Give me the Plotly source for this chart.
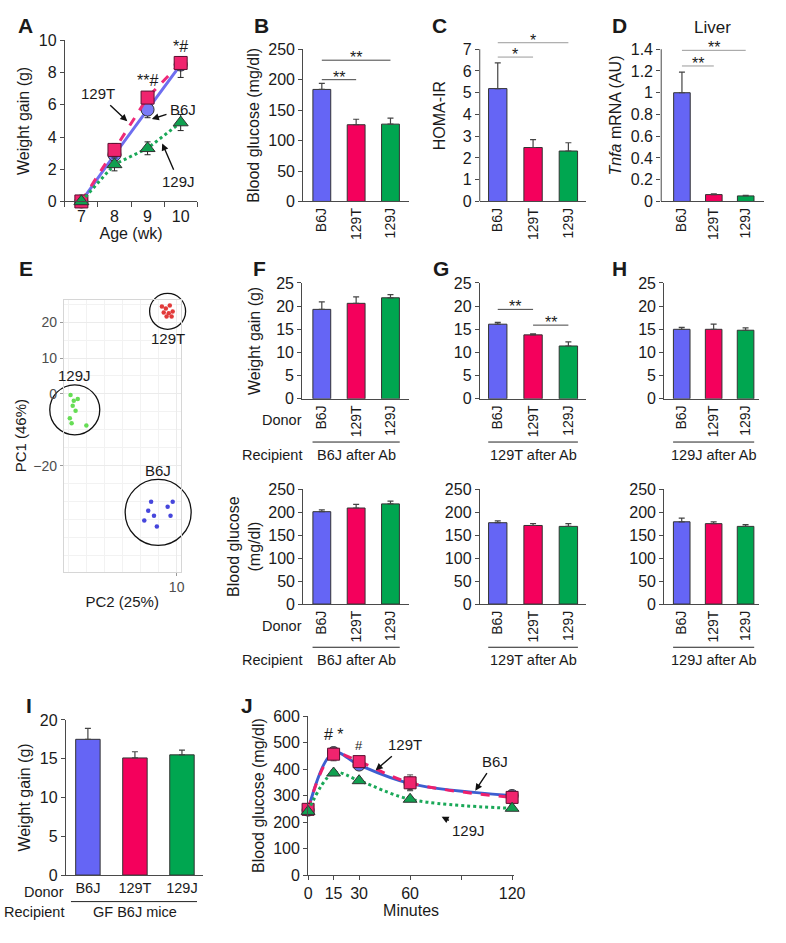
import numpy as np
import plotly.graph_objects as go

W, H = 786, 943
FONT = "Liberation Sans, Arial, Helvetica, sans-serif"
INK = "#1a1a1a"
AXC = "#4a4a4a"

# ---------------- data ----------------
strains = ["B6J", "129T", "129J"]

# A: weight gain over age
age_wk = [7, 8, 9, 10]
gain_b6j = [0, 2.9, 5.7, 8.5]
gain_b6j_sem = [0, 0.3, 0.5, 0.3]
gain_129t = [0, 3.2, 6.45, 8.6]
gain_129t_sem_up = [0, 0.4, 0.35, 0.4]
gain_129t_sem_dn = [0, 0.4, 0.35, 0.9]
gain_129j = [0, 2.3, 3.3, 4.9]
gain_129j_sem = [0, 0.4, 0.4, 0.5]

# B, C, D
glucose = [184, 126, 127]
glucose_sem = [10, 9, 10]
homa_ir = [5.19, 2.48, 2.32]
homa_ir_sem = [1.18, 0.36, 0.38]
tnfa_liver = [1.0, 0.063, 0.051]
tnfa_liver_sem = [0.19, 0.006, 0.005]

# E: PCA scores (PC2, PC1)
pca_129t_pc2 = [5.9, 7.0, 8.1, 6.4, 7.8, 8.9, 7.2, 8.6]
pca_129t_pc1 = [24.4, 23.8, 24.7, 22.7, 22.5, 23.0, 21.6, 21.6]
pca_129j_pc2 = [-19.5, -18.6, -17.5, -18.9, -19.7, -19.2, -15.1, -18.1]
pca_129j_pc1 = [-0.3, -1.9, -1.4, -3.3, -6.8, -8.2, -8.8, -4.7]
pca_b6j_pc2 = [2.9, 2.1, 3.7, 1.0, 7.5, 8.9, 8.3, 4.5]
pca_b6j_pc1 = [-30.1, -32.6, -34.0, -35.3, -31.5, -30.1, -34.0, -37.0]

# F, G, H: recipients after antibiotics (donor order = strains)
gain_rec_b6j = [19.3, 20.6, 21.8]
gain_rec_b6j_sem = [1.6, 1.4, 0.7]
gain_rec_129t = [16.1, 13.8, 11.4]
gain_rec_129t_sem = [0.4, 0.2, 0.9]
gain_rec_129j = [15.0, 15.0, 14.8]
gain_rec_129j_sem = [0.4, 1.1, 0.5]
glu_rec_b6j = [201, 209, 218]
glu_rec_b6j_sem = [4, 8, 6]
glu_rec_129t = [177, 171, 169]
glu_rec_129t_sem = [4, 4, 6]
glu_rec_129j = [179, 175, 169]
glu_rec_129j_sem = [8, 4, 4]

# I: germ-free B6J recipients
gain_gf = [17.5, 15.1, 15.5]
gain_gf_sem = [1.4, 0.8, 0.6]

# J: glucose tolerance test
minutes = [0, 15, 30, 60, 120]
gtt_b6j = [245, 462, 415, 345, 300]
gtt_b6j_sem = [8, 20, 12, 25, 20]
gtt_129t = [248, 456, 428, 348, 293]
gtt_129t_sem = [8, 25, 12, 30, 25]
gtt_129j = [240, 385, 356, 286, 252]
gtt_129j_sem = [6, 10, 8, 8, 8]

# ---------------- styles ----------------
BLUE, PINK, GREEN = "#6565f5", "#f4005c", "#00a650"
bar_colors = [BLUE, PINK, GREEN]


def xdom(l, r):
    return [l / W, r / W]


def ydom(t, b):
    return [1 - b / H, 1 - t / H]


def lin(p0, v0, p1, v1, a, b):
    k = (v1 - v0) / (p1 - p0)
    return [v0 + (a - p0) * k, v0 + (b - p0) * k]


def suf(n):
    return "" if n == 1 else str(n)


AX = dict(showgrid=False, zeroline=False, showline=True, linecolor=AXC, linewidth=1,
          ticks="outside", ticklen=4, tickwidth=1, tickcolor=AXC,
          tickfont=dict(size=16, color=INK))

fig = go.Figure()
lay = dict(width=W, height=H, margin=dict(l=0, r=0, t=0, b=0),
           paper_bgcolor="white", plot_bgcolor="white", showlegend=False,
           font=dict(family=FONT, size=15, color=INK))
annotations = []
shapes = []


def axes(n, xd, yd, xr, yr, xkw=None, ykw=None):
    s = suf(n)
    xa = dict(AX)
    xa.update(domain=xd, range=xr, anchor="y" + s)
    xa.update(xkw or {})
    ya = dict(AX)
    ya.update(domain=yd, range=yr, anchor="x" + s)
    ya.update(ykw or {})
    lay["xaxis" + s] = xa
    lay["yaxis" + s] = ya


def ytitle(text, standoff, size=16):
    return dict(text=text, standoff=standoff, font=dict(size=size))


def bar_x(rotated=True):
    d = dict(tickvals=[0, 1, 2], ticktext=strains, ticks="")
    if rotated:
        d.update(tickangle=-90, tickfont=dict(size=14, color=INK))
    else:
        d.update(tickfont=dict(size=14.5, color=INK))
    return d


def bars(n, vals, errs):
    s = suf(n)
    fig.add_trace(go.Bar(
        x=[0, 1, 2], y=vals, width=0.52,
        marker=dict(color=bar_colors, line=dict(color="#333333", width=1)),
        error_y=dict(type="data", symmetric=False, array=errs, arrayminus=[0, 0, 0],
                     color="#444444", thickness=1.2, width=3),
        xaxis="x" + s, yaxis="y" + s, hoverinfo="skip"))


def sig(n, i0, i1, y, label, color):
    s = suf(n)
    shapes.append(dict(type="line", xref="x" + s, yref="y" + s, x0=i0, x1=i1, y0=y, y1=y,
                       line=dict(color=color, width=1)))
    annotations.append(dict(xref="x" + s, yref="y" + s, x=(i0 + i1) / 2, y=y, text=label,
                            showarrow=False, yanchor="bottom", yshift=-8,
                            font=dict(size=16, color=INK)))


def yline(n, top):
    s = suf(n)
    shapes.append(dict(type="line", xref="x" + s + " domain", yref="y" + s,
                       x0=0, x1=0, y0=0, y1=top, line=dict(color=AXC, width=1)))


def paper_text(px, py, text, size=15, xanchor="center", bold=False):
    annotations.append(dict(xref="paper", yref="paper", x=px / W, y=1 - py / H,
                            text=f"<b>{text}</b>" if bold else text, showarrow=False,
                            xanchor=xanchor, yanchor="middle", font=dict(size=size, color=INK)))


def arrow_label(n, x, y, text, ax, ay):
    s = suf(n)
    annotations.append(dict(xref="x" + s, yref="y" + s, x=x, y=y, text=text, showarrow=True,
                            ax=ax, ay=ay, arrowhead=2, arrowsize=1, arrowwidth=1.4,
                            arrowcolor="#111", standoff=1, startstandoff=2,
                            font=dict(size=15, color=INK)))


# ---------------- A ----------------
axes(1, xdom(62, 197), ydom(33, 197), [6.5, 10.5], [0, 10],
     xkw=dict(tickvals=age_wk, ticks="",
              minor=dict(ticks="outside", ticklen=5, tickcolor=AXC,
                         tickvals=[w - 0.5 for w in age_wk] + [age_wk[-1] + 0.5]),
              title=dict(text="Age (wk)", standoff=3, font=dict(size=16))),
     ykw=dict(dtick=2, title=ytitle("Weight gain (g)", 5)))
fig.add_trace(go.Scatter(
    x=age_wk, y=gain_b6j, mode="lines+markers", cliponaxis=False,
    line=dict(color="#6e6ef0", width=3),
    marker=dict(symbol="circle", size=13, color="#7b7bf6", line=dict(color="#333", width=1)),
    error_y=dict(array=gain_b6j_sem, color="#222", thickness=1, width=3)))
fig.add_trace(go.Scatter(
    x=age_wk, y=gain_129t, mode="lines+markers", cliponaxis=False,
    line=dict(color="#ee2a78", width=3, dash="dash"),
    marker=dict(symbol="square", size=13, color="#f0246e", line=dict(color="#5a1030", width=1)),
    error_y=dict(symmetric=False, array=gain_129t_sem_up, arrayminus=gain_129t_sem_dn,
                 color="#222", thickness=1, width=3)))
fig.add_trace(go.Scatter(
    x=age_wk, y=gain_129j, mode="lines+markers", cliponaxis=False,
    line=dict(color="#1aa858", width=3, dash="dot"),
    marker=dict(symbol="triangle-up", size=13, color="#10a050", line=dict(color="#333", width=1)),
    error_y=dict(array=gain_129j_sem, color="#222", thickness=1, width=3)))
annotations.append(dict(xref="x", yref="y", x=age_wk[2], y=7.5, text="**#", showarrow=False,
                        font=dict(size=16)))
annotations.append(dict(xref="x", yref="y", x=age_wk[3], y=9.65, text="*#", showarrow=False,
                        font=dict(size=16)))
arrow_label(1, 8.41, 4.94, "129T", -30, -28)
arrow_label(1, 9.1, 5.1, "B6J", 32, -10)
arrow_label(1, 9.43, 3.66, "129J", 17, 39)

# ---------------- B ----------------
axes(2, xdom(305, 413), ydom(42, 197), [-0.543, 2.543], [0, 250],
     xkw=bar_x(), ykw=dict(dtick=50, title=ytitle("Blood glucose (mg/dl)", 4)))
bars(2, glucose, glucose_sem)
sig(2, 0, 1, 200, "**", "#444")
sig(2, 0, 2, 232, "**", "#444")

# ---------------- C ----------------
axes(3, xdom(485, 593), ydom(22, 197), [-0.51, 2.49], lin(197, 0, 42, 7, 197, 22),
     xkw=bar_x(), ykw=dict(tickvals=list(range(8)), showline=False,
                           title=ytitle("HOMA-IR", 13)))
yline(3, 7)
bars(3, homa_ir, homa_ir_sem)
sig(3, 0, 1, 6.64, "*", "#9a9a9a")
sig(3, 0, 2, 7.3, "*", "#9a9a9a")

# ---------------- D ----------------
axes(4, xdom(670, 775), ydom(22, 197), [-0.65, 2.58], lin(197, 0, 42, 1.4, 197, 22),
     xkw=bar_x(), ykw=dict(tickvals=[0, 0.2, 0.4, 0.6, 0.8, 1, 1.2, 1.4], showline=False,
                           title=ytitle("<i>Tnfa</i> mRNA (AU)", 5)))
yline(4, 1.4)
bars(4, tnfa_liver, tnfa_liver_sem)
sig(4, 0, 1, 1.246, "**", "#9a9a9a")
sig(4, 0, 2, 1.39, "**", "#9a9a9a")
paper_text(722, 20, "Liver", size=17)

# ---------------- E ----------------
ex = lin(66, -20, 176, 10, 61, 180)
ey = lin(320, 20, 466, -20, 574, 297)
egrid = dict(showgrid=True, gridcolor="#ebebeb", showline=True, mirror=True,
             linecolor="#d6d6d6", ticklen=3, tickcolor="#9a9a9a",
             tickfont=dict(size=14, color="#4d4d4d"),
             minor=dict(dtick=5, showgrid=True, gridcolor="#f2f2f2"))
axes(5, xdom(61, 180), ydom(297, 574), ex, ey,
     xkw=dict(egrid, tickvals=[10], title=dict(text="PC2 (25%)", standoff=2, font=dict(size=15))),
     ykw=dict(egrid, tickvals=[20, 10, 0, -20], title=dict(text="PC1 (46%)", standoff=3,
                                                          font=dict(size=15))))
clusters = [("129T", pca_129t_pc2, pca_129t_pc1, "#e23b3b", 36, -1),
            ("129J", pca_129j_pc2, pca_129j_pc1, "#66dd55", 50, 1),
            ("B6J", pca_b6j_pc2, pca_b6j_pc1, "#4646dc", 66, 1)]
for name, xs, ys, col, diam, side in clusters:
    fig.add_trace(go.Scatter(x=xs, y=ys, mode="markers", xaxis="x5", yaxis="y5",
                             marker=dict(size=4.5, color=col), hoverinfo="skip"))
    cx, cy = float(np.mean(xs)), float(np.mean(ys))
    fig.add_trace(go.Scatter(x=[cx], y=[cy], mode="markers", xaxis="x5", yaxis="y5",
                             cliponaxis=False, hoverinfo="skip",
                             marker=dict(symbol="circle-open", size=diam,
                                         line=dict(color="#111", width=1.3), color="#111")))
    annotations.append(dict(xref="x5", yref="y5", x=cx, y=cy, text=name, showarrow=False,
                            yshift=side * (diam / 2 + 9), font=dict(size=15, color=INK)))

# ---------------- F, G, H (weight gain) ----------------
top_rows = [(6, 304, 413, [-0.571, 2.543], gain_rec_b6j, gain_rec_b6j_sem, "B6J after Ab"),
            (7, 485, 593, [-0.51, 2.49], gain_rec_129t, gain_rec_129t_sem, "129T after Ab"),
            (8, 673, 770, [-0.55, 2.43], gain_rec_129j, gain_rec_129j_sem, "129J after Ab")]
for n, l, r, xr, vals, errs, rec in top_rows:
    ykw = dict(dtick=5)
    if n == 6:
        ykw["title"] = ytitle("Weight gain (g)", 11)
    axes(n, xdom(l, r), ydom(280, 398), xr, [0, 25], xkw=bar_x(), ykw=ykw)
    bars(n, vals, errs)
    s = suf(n)
    shapes.append(dict(type="line", xref="x" + s, yref="paper", x0=-0.27, x1=2.27,
                       y0=1 - 442 / H, y1=1 - 442 / H, line=dict(color="#222", width=1)))
    annotations.append(dict(xref="x" + s, yref="paper", x=1, y=1 - 455 / H, text=rec,
                            showarrow=False, yanchor="middle", font=dict(size=14.5, color=INK)))
sig(7, 0, 1, 19.3, "**", "#444")
sig(7, 1, 2, 15.9, "**", "#444")
paper_text(306, 420, "Donor", size=14.5, xanchor="right")
paper_text(306, 455, "Recipient", size=14.5, xanchor="right")

# ---------------- F, G, H (blood glucose) ----------------
bottom_rows = [(9, 305, 413, [-0.543, 2.543], glu_rec_b6j, glu_rec_b6j_sem, "B6J after Ab"),
               (10, 485, 593, [-0.51, 2.49], glu_rec_129t, glu_rec_129t_sem, "129T after Ab"),
               (11, 673, 770, [-0.55, 2.43], glu_rec_129j, glu_rec_129j_sem, "129J after Ab")]
for n, l, r, xr, vals, errs, rec in bottom_rows:
    ykw = dict(dtick=50)
    if n == 9:
        ykw["title"] = ytitle("Blood glucose<br>(mg/dl)", 3)
    axes(n, xdom(l, r), ydom(490, 607), xr, [0, 250], xkw=bar_x(), ykw=ykw)
    bars(n, vals, errs)
    s = suf(n)
    shapes.append(dict(type="line", xref="x" + s, yref="paper", x0=-0.27, x1=2.27,
                       y0=1 - 651 / H, y1=1 - 651 / H, line=dict(color="#222", width=1)))
    annotations.append(dict(xref="x" + s, yref="paper", x=1, y=1 - 664 / H, text=rec,
                            showarrow=False, yanchor="middle", font=dict(size=14.5, color=INK)))
paper_text(306, 629, "Donor", size=14.5, xanchor="right")
paper_text(306, 664, "Recipient", size=14.5, xanchor="right")

# ---------------- I ----------------
axes(12, xdom(63, 203), ydom(725, 883), [-0.47, 2.45], [0, 20],
     xkw=bar_x(rotated=False), ykw=dict(dtick=5, title=ytitle("Weight gain (g)", 5)))
bars(12, gain_gf, gain_gf_sem)
shapes.append(dict(type="line", xref="x12", yref="paper", x0=-0.36, x1=2.32,
                   y0=1 - 910 / H, y1=1 - 910 / H, line=dict(color="#222", width=1)))
annotations.append(dict(xref="x12", yref="paper", x=1, y=1 - 921 / H, text="GF B6J mice",
                        showarrow=False, yanchor="middle", font=dict(size=14.5, color=INK)))
paper_text(63, 900, "Donor", size=14.5, xanchor="right")
paper_text(63, 921, "Recipient", size=14.5, xanchor="right")

# ---------------- J ----------------
axes(13, xdom(310, 520), ydom(721, 883), lin(310, 0, 414, 60, 310, 520), [0, 600],
     xkw=dict(tickvals=[0, 15, 30, 60, 90, 120], ticktext=["0", "15", "30", "60", "", "120"],
              title=dict(text="Minutes", standoff=2, font=dict(size=16))),
     ykw=dict(dtick=100, title=ytitle("Blood glucose (mg/dl)", 4)))
fig.add_trace(go.Scatter(
    x=minutes, y=gtt_b6j, mode="lines+markers", xaxis="x13", yaxis="y13", cliponaxis=False,
    line=dict(color="#3d5fd0", width=3, shape="spline", smoothing=1),
    marker=dict(symbol="circle", size=12, color="#5c6ee8", line=dict(color="#333", width=1)),
    error_y=dict(array=gtt_b6j_sem, color="#555", thickness=1, width=3)))
fig.add_trace(go.Scatter(
    x=minutes, y=gtt_129t, mode="lines+markers", xaxis="x13", yaxis="y13", cliponaxis=False,
    line=dict(color="#ee1f6c", width=3, dash="dash", shape="spline", smoothing=1),
    marker=dict(symbol="square", size=12, color="#f0246e", line=dict(color="#5a1030", width=1)),
    error_y=dict(array=gtt_129t_sem, color="#555", thickness=1, width=3)))
fig.add_trace(go.Scatter(
    x=minutes, y=gtt_129j, mode="lines+markers", xaxis="x13", yaxis="y13", cliponaxis=False,
    line=dict(color="#1aa858", width=3, dash="dot", shape="spline", smoothing=1),
    marker=dict(symbol="triangle-up", size=12, color="#10a050", line=dict(color="#333", width=1)),
    error_y=dict(array=gtt_129j_sem, color="#555", thickness=1, width=3)))
annotations.append(dict(xref="x13", yref="y13", x=minutes[1], y=530, text="# *",
                        showarrow=False, font=dict(size=16)))
annotations.append(dict(xref="x13", yref="y13", x=minutes[2], y=488, text="#",
                        showarrow=False, font=dict(size=13)))
arrow_label(13, 39.3, 393, "129T", 30, -26)
arrow_label(13, 98, 315, "B6J", 20, -30)
arrow_label(13, 78, 222, "129J", 28, 14)

# ---------------- panel letters ----------------
panel_letters = {"A": (22, 18), "B": (262, 18), "C": (444, 18), "D": (627, 18),
                 "E": (22, 265), "F": (260, 265), "G": (446, 265), "H": (627, 265),
                 "I": (25, 710), "J": (248, 710)}
for letter, (px, py) in panel_letters.items():
    paper_text(px, py, letter, size=21, bold=True)

lay["annotations"] = annotations
lay["shapes"] = shapes
fig.update_layout(**lay)
# drop the default page margin so the figure fills the 786x943 window exactly
fig.write_html("out.html", config={"staticPlot": True, "displayModeBar": False},
               post_script="document.body.style.margin='0';document.body.style.overflow='hidden';")
